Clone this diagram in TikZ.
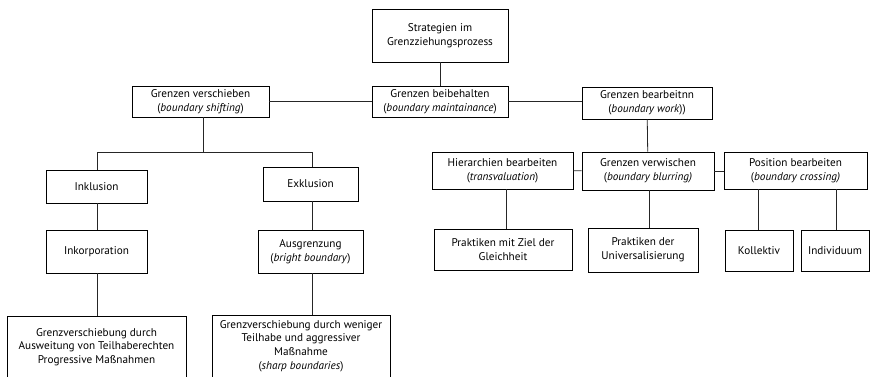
\documentclass[tikz,border=0pt]{standalone}
\usepackage{fontspec}
\setmainfont{PT Sans}
\begin{document}
\begin{tikzpicture}[x=1pt,y=-1pt,
  box/.style={draw=black,line width=0.8pt,align=center,inner sep=1pt,font=\fontsize{11.2}{13.7}\selectfont,text=black},
  conn/.style={draw=black!85,line width=0.8pt}]
\useasboundingbox (0,0) rectangle (872,376);
% nodes
\node[box,minimum width=136,minimum height=53] (top) at (440,35.5) {Strategien im\\Grenzziehungsprozess};
\node[box,minimum width=136,minimum height=31] (beib) at (440,101.5) {Grenzen beibehalten\\(\textit{boundary maintainance})};
\node[box,minimum width=137,minimum height=31] (versch) at (200.5,101.5) {Grenzen verschieben\\(\textit{boundary shifting})};
\node[box,minimum width=130,minimum height=32] (bearb) at (647,103) {Grenzen bearbeitnn\\(\textit{boundary work}))};
\node[box,minimum width=101,minimum height=33] (inkl) at (96.5,186.5) {Inklusion};
\node[box,minimum width=95,minimum height=34] (exkl) at (310.5,184) {Exklusion};
\node[box,minimum width=101,minimum height=43] (inkorp) at (96.5,251.5) {Inkorporation};
\node[box,minimum width=105,minimum height=43] (ausgr) at (310.5,251.5) {Ausgrenzung\\(\textit{bright boundary})};
\node[box,minimum width=179,minimum height=62] (gv1) at (96.5,347) {Grenzverschiebung durch\\Ausweitung von Teilhaberechten\\Progressive Maßnahmen};
\node[box,minimum width=178,minimum height=62] (gv2) at (301,346) {Grenzverschiebung durch weniger\\Teilhabe und aggressiver\\Maßnahme\\(\textit{sharp boundaries})};
\node[box,minimum width=141,minimum height=37] (hier) at (502.5,170.5) {Hierarchien bearbeiten\\(\textit{transvaluation})};
\node[box,minimum width=132,minimum height=38] (verw) at (648,171) {Grenzen verwischen\\(\textit{boundary blurring)}};
\node[box,minimum width=143,minimum height=37] (pos) at (795.5,170.5) {Position bearbeiten\\(\textit{boundary crossing)}};
\node[box,minimum width=138,minimum height=41] (przi) at (503,249.5) {Praktiken mit Ziel der\\Gleichheit};
\node[box,minimum width=110,minimum height=44] (pruni) at (643,250) {Praktiken der\\Universalisierung};
\node[box,minimum width=68,minimum height=41] (koll) at (759,250.5) {Kollektiv};
\node[box,minimum width=68,minimum height=41] (indiv) at (835,250.5) {Individuum};
% helper coordinates
\coordinate (j1) at (203,152);
\coordinate (jl) at (97,152);
\coordinate (jr) at (312,152);
\coordinate (xh) at (506,0);
\coordinate (xu) at (649,0);
\coordinate (xk) at (758,0);
\coordinate (xi) at (836,0);
% connectors
\draw[conn] (top) -- (beib);
\draw[conn] (versch) -- (beib);
\draw[conn] (beib.east) -- (bearb.west |- beib.east);
\draw[conn] (versch.south -| j1) -- (j1);
\draw[conn] (jl) -- (jr);
\draw[conn] (jl) -- (inkl.north -| jl);
\draw[conn] (jr) -- (exkl.north -| jr);
\draw[conn] (inkl.south -| jl) -- (inkorp.north -| jl);
\draw[conn] (inkorp.south -| jl) -- (gv1.north -| jl);
\draw[conn] (exkl.south -| jr) -- (ausgr.north -| jr);
\draw[conn] (ausgr.south -| jr) -- (gv2.north -| jr);
\draw[conn] (bearb) -- (verw);
\draw[conn] (hier) -- (verw);
\draw[conn] (verw.east) -- (pos.west |- verw.east);
\draw[conn] (hier.south -| xh) -- (przi.north -| xh);
\draw[conn] (verw.south -| xu) -- (pruni.north -| xu);
\draw[conn] (pos.south -| xk) -- (koll.north -| xk);
\draw[conn] (pos.south -| xi) -- (indiv.north -| xi);
\end{tikzpicture}
\end{document}
